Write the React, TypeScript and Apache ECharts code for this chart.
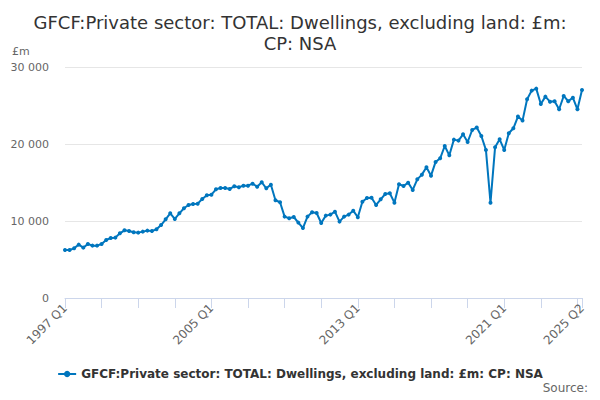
import React, { useEffect, useRef } from "react";
import * as echarts from "echarts";

const seriesName = "GFCF:Private sector: TOTAL: Dwellings, excluding land: £m: CP: NSA";

const years: number[] = [];
for (let y = 1997; y <= 2025; y++) years.push(y);
const categories: string[] = [];
years.forEach((y) => {
  for (let q = 1; q <= 4; q++) {
    if (y === 2025 && q > 2) break;
    categories.push(`${y} Q${q}`);
  }
});

const values: number[] = [
  6230, 6230, 6450, 6930,
  6540, 7010, 6800, 6800,
  7010, 7530, 7790, 7840,
  8400, 8790, 8700, 8530,
  8490, 8620, 8750, 8700,
  8920, 9480, 10220, 11000,
  10260, 11000, 11650, 12080,
  12210, 12250, 12860, 13340,
  13420, 14120, 14290, 14290,
  14160, 14500, 14380, 14590,
  14590, 14850, 14460, 15030,
  14250, 14720, 12690, 12430,
  10570, 10350, 10520, 9790,
  9090, 10570, 11130, 11040,
  9740, 10700, 10830, 11210,
  9920, 10570, 10830, 11340,
  10480, 12510, 12990, 13030,
  12080, 12820, 13510, 13600,
  12380, 14770, 14550, 14980,
  14030, 15410, 16020, 16970,
  15890, 17670, 18140, 19740,
  18530, 20570, 20440, 21260,
  20260, 21820, 22130, 21040,
  19230, 12380, 19570, 20610,
  19230, 21390, 22040, 23560,
  23040, 25810, 26930, 27190,
  25200, 26150, 25500, 25550,
  24510, 26240, 25550, 26020,
  24510, 27020,
];

const yTicks: number[] = [0, 10000, 20000, 30000];

const FONT = "DejaVu Sans";

export default function App() {
  const ref = useRef<HTMLDivElement>(null);
  useEffect(() => {
    if (!ref.current) return;
    const chart = echarts.init(ref.current, undefined, { renderer: "svg" });
    const last = categories.length - 1;
    chart.setOption({
      animation: false,
      textStyle: { fontFamily: FONT },
      title: {
        text: "GFCF:Private sector: TOTAL: Dwellings, excluding land: £m:\nCP: NSA",
        left: "center",
        top: 7,
        textStyle: {
          fontFamily: FONT,
          fontSize: 18,
          fontWeight: "normal",
          color: "#333333",
          lineHeight: 21,
        },
      },
      graphic: [
        {
          type: "text",
          left: 12,
          top: 46,
          style: { text: "£m", fontSize: 11, fill: "#666666", fontFamily: FONT },
        },
        {
          type: "text",
          right: 12,
          top: 382,
          style: { text: "Source:", fontSize: 12, fill: "#666666", fontFamily: FONT },
        },
      ],
      legend: {
        top: 363,
        left: "center",
        itemWidth: 18,
        itemHeight: 8,
        textStyle: { fontFamily: FONT, fontSize: 12, fontWeight: "bold", color: "#333333" },
        data: [seriesName],
      },
      grid: { left: 65, right: 18, top: 67, bottom: 102, containLabel: false },
      xAxis: {
        type: "category",
        data: categories,
        boundaryGap: false,
        axisLine: { lineStyle: { color: "#ccd6eb" } },
        axisTick: {
          show: true,
          length: 10,
          lineStyle: { color: "#ccd6eb" },
          interval: (i: number) => i % 8 === 0 || i === last,
        },
        axisLabel: {
          rotate: 45,
          fontSize: 12,
          color: "#666666",
          fontFamily: FONT,
          margin: 8,
          interval: (i: number) => i % 32 === 0 || i === last,
        },
        splitLine: { show: false },
      },
      yAxis: {
        type: "value",
        min: yTicks[0],
        max: yTicks[yTicks.length - 1],
        interval: 10000,
        axisLine: { show: false },
        axisTick: { show: false },
        axisLabel: {
          fontSize: 11,
          color: "#666666",
          fontFamily: FONT,
          margin: 16,
          formatter: (v: number) => String(v).replace(/\B(?=(\d{3})+(?!\d))/g, " "),
        },
        splitLine: { lineStyle: { color: "#e6e6e6" } },
      },
      series: [
        {
          name: seriesName,
          type: "line",
          data: values,
          color: "#0076be",
          lineStyle: { width: 2, color: "#0076be" },
          symbol: "circle",
          symbolSize: 4,
          showSymbol: true,
          showAllSymbol: true,
          itemStyle: { color: "#0076be" },
        },
      ],
    });
    return () => chart.dispose();
  }, []);
  return <div ref={ref} style={{ width: 600, height: 400, margin: -8 }} />;
}
